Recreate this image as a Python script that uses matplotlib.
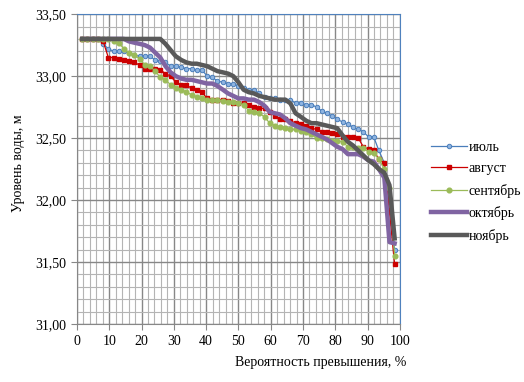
import matplotlib
matplotlib.use("Agg")
import matplotlib.pyplot as plt
from matplotlib.ticker import MultipleLocator, FuncFormatter

# probability of exceedance, %
prob = [1.6, 3.2, 4.8, 6.5, 8.1, 9.7, 11.3, 12.9, 14.5, 16.1, 17.7, 19.4, 21.0,
        22.6, 24.2, 25.8, 27.4, 29.0, 30.6, 32.3, 33.9, 35.5, 37.1, 38.7, 40.3,
        41.9, 43.5, 45.2, 46.8, 48.4, 50.0, 51.6, 53.2, 54.8, 56.5, 58.1, 59.7,
        61.3, 62.9, 64.5, 66.1, 67.7, 69.4, 71.0, 72.6, 74.2, 75.8, 77.4, 79.0,
        80.6, 82.3, 83.9, 85.5, 87.1, 88.7, 90.3, 91.9, 93.5, 95.2, 96.8, 98.4]

jul = [33.30, 33.30, 33.30, 33.30, 33.26, 33.22, 33.20, 33.20, 33.20, 33.19,
       33.17, 33.16, 33.16, 33.16, 33.13, 33.12, 33.11, 33.08, 33.08, 33.07,
       33.06, 33.06, 33.05, 33.05, 33.00, 32.99, 32.96, 32.95, 32.94, 32.94,
       32.92, 32.90, 32.89, 32.89, 32.86, 32.83, 32.82, 32.82, 32.81, 32.81,
       32.81, 32.78, 32.78, 32.77, 32.77, 32.75, 32.72, 32.70, 32.68, 32.65,
       32.63, 32.61, 32.59, 32.57, 32.55, 32.51, 32.51, 32.40, 32.30, 31.95,
       31.60]

aug = [33.30, 33.30, 33.30, 33.30, 33.28, 33.15, 33.15, 33.14, 33.13, 33.12,
       33.11, 33.09, 33.06, 33.06, 33.06, 33.05, 33.02, 33.00, 32.95, 32.93,
       32.93, 32.90, 32.89, 32.87, 32.82, 32.81, 32.81, 32.81, 32.80, 32.78,
       32.78, 32.78, 32.77, 32.75, 32.74, 32.74, 32.71, 32.68, 32.65, 32.65,
       32.64, 32.62, 32.61, 32.60, 32.58, 32.57, 32.55, 32.55, 32.54, 32.53,
       32.51, 32.51, 32.51, 32.50, 32.43, 32.41, 32.40, 32.33, 32.30, 31.90,
       31.48]

sep = [33.30, 33.30, 33.30, 33.30, 33.30, 33.30, 33.28, 33.27, 33.22, 33.19,
       33.17, 33.14, 33.09, 33.08, 33.04, 32.99, 32.97, 32.93, 32.90, 32.89,
       32.87, 32.85, 32.83, 32.82, 32.81, 32.81, 32.81, 32.80, 32.79, 32.79,
       32.78, 32.77, 32.72, 32.71, 32.70, 32.67, 32.62, 32.60, 32.59, 32.58,
       32.57, 32.57, 32.56, 32.55, 32.53, 32.50, 32.50, 32.49, 32.48, 32.48,
       32.47, 32.43, 32.43, 32.42, 32.42, 32.39, 32.38, 32.33, 32.25, 32.10,
       31.55]

octb = [33.30, 33.30, 33.30, 33.30, 33.30, 33.30, 33.30, 33.30, 33.30, 33.28,
        33.27, 33.26, 33.25, 33.23, 33.19, 33.15, 33.08, 33.03, 33.00, 32.98,
        32.97, 32.97, 32.96, 32.95, 32.94, 32.94, 32.92, 32.89, 32.86, 32.84,
        32.82, 32.82, 32.81, 32.81, 32.79, 32.76, 32.71, 32.70, 32.69, 32.66,
        32.62, 32.60, 32.58, 32.57, 32.55, 32.53, 32.51, 32.49, 32.46, 32.43,
        32.41, 32.37, 32.37, 32.37, 32.35, 32.32, 32.31, 32.25, 32.18, 31.66,
        31.65]

nov = [33.30, 33.30, 33.30, 33.30, 33.30, 33.30, 33.30, 33.30, 33.30, 33.30,
       33.30, 33.30, 33.30, 33.30, 33.30, 33.30, 33.26, 33.21, 33.16, 33.13,
       33.11, 33.10, 33.10, 33.09, 33.08, 33.06, 33.04, 33.03, 33.02, 33.00,
       32.95, 32.89, 32.87, 32.86, 32.84, 32.83, 32.82, 32.81, 32.81, 32.81,
       32.78, 32.70, 32.67, 32.64, 32.62, 32.62, 32.61, 32.60, 32.59, 32.58,
       32.52, 32.47, 32.44, 32.40, 32.36, 32.32, 32.29, 32.25, 32.22, 32.12,
       31.69]

plt.rcParams['font.family'] = 'serif'
plt.rcParams['font.serif'] = ['Liberation Serif', 'DejaVu Serif']
plt.rcParams['font.size'] = 10

fig = plt.figure(figsize=(5.24, 3.82), dpi=100)
ax = fig.add_axes([0.147, 0.152, 0.616, 0.811])

# thin series with markers
ax.plot(prob, jul, color='#4A7EBB', lw=0.9, marker='o', ms=3.2,
        mfc='#8FB4E0', mec='#4A7EBB', mew=0.7, label='июль', zorder=3)
ax.plot(prob, aug, color='#CC0000', lw=0.9, marker='s', ms=3.0,
        mfc='#CC0000', mec='#CC0000', label='август', zorder=3)
ax.plot(prob, sep, color='#9BBB59', lw=0.9, marker='o', ms=3.4,
        mfc='#9BBB59', mec='#9BBB59', label='сентябрь', zorder=3)
# thick series
ax.plot(prob, octb, color='#8064A2', lw=3.2, label='октябрь', zorder=4,
        solid_joinstyle='round')
ax.plot(prob, nov, color='#595959', lw=3.2, label='ноябрь', zorder=5,
        solid_joinstyle='round')

ax.set_xlim(0, 100)
ax.set_ylim(31.0, 33.5)
ax.xaxis.set_major_locator(MultipleLocator(10))
ax.xaxis.set_minor_locator(MultipleLocator(2))
ax.yaxis.set_major_locator(MultipleLocator(0.5))
ax.yaxis.set_minor_locator(MultipleLocator(0.1))
ax.yaxis.set_major_formatter(FuncFormatter(lambda v, pos: f"{v:.2f}".replace('.', ',')))

ax.grid(which='major', color='#878787', lw=1.0)
ax.grid(which='minor', color='#B4B4B4', lw=0.8)
ax.set_axisbelow(True)

ax.tick_params(which='major', direction='out', length=4, color='#878787',
               labelsize=10, pad=4)
ax.tick_params(which='minor', length=0)

for s in ['left', 'bottom']:
    ax.spines[s].set_color('#878787')
for s in ['top', 'right']:
    ax.spines[s].set_color('#4F81BD')

ax.set_xlabel('Вероятность превышения, %', fontsize=10, loc='right')
ax.set_ylabel('Уровень воды, м', fontsize=10)
ax.xaxis.set_label_coords(1.02, -0.105)
ax.yaxis.set_label_coords(-0.16, 0.52)

leg = ax.legend(loc='upper left', bbox_to_anchor=(1.08, 0.61), frameon=False,
                fontsize=10, handlelength=2.6, handletextpad=0.1,
                labelspacing=0.62, borderaxespad=0)

fig.savefig('out.png', dpi=100)
